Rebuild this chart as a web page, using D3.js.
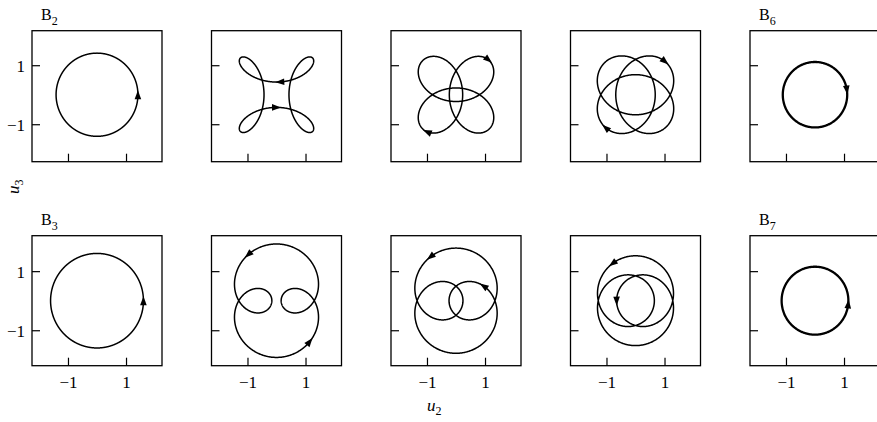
<!DOCTYPE html>
<html>
<head>
<meta charset="utf-8">
<script src="https://cdn.jsdelivr.net/npm/d3@7"></script>
<style>
  html, body { margin: 0; padding: 0; background: #fff; }
  svg { display: block; }
</style>
</head>
<body>
<svg id="chart" width="877" height="422"></svg>
<script>
// Trajectories in the (u2, u3) plane: u2 + i·u3 = A·e^{it} − B·e^{ikt}
// Top row uses k = −3, bottom row k = +3.
const topFreq = -3;
const bottomFreq = 3;

// Amplitude of the slow (k = 1) component, per column
const topSlow    = [1.41, 1.095, 0.70, 0.42, 0.00];
const bottomSlow = [1.60, 1.04, 0.77, 0.435, 0.00];

// Amplitude of the fast (k = ±3) component, per column
const topFast    = [0.00, 0.665, 0.93, 1.10, 1.11];
const bottomFast = [0.00, 0.88, 1.01, 1.085, 1.15];

// Where the direction arrows sit on each trajectory (u2, u3)
const topArrows = [
  [[1.41, 0.0]],
  [[0.11, 0.44], [0.0, -0.42]],
  [[1.13, 1.20], [-0.98, -1.22]],
  [[0.94, 1.03], [-0.95, -1.03]],
  [[1.11, 0.16]]
];
const bottomArrows = [
  [[1.60, 0.0]],
  [[-0.93, 1.49], [1.16, -1.40]],
  [[-0.89, 1.50], [0.93, 0.47]],
  [[-0.75, 1.21], [-0.625, -0.02]],
  [[1.15, -0.10]]
];

// Panel labels (letter, subscript); null = unlabeled
const topTitles    = [["B", "2"], null, null, null, ["B", "6"]];
const bottomTitles = [["B", "3"], null, null, null, ["B", "7"]];

const tickValues = [-1, 1];
const xLabel = ["u", "2"];
const yLabel = ["u", "3"];

// ---------------------------------------------------------------
const svg = d3.select("#chart");
const serif = "'Liberation Serif', 'Times New Roman', Times, serif";

const colCenters = d3.range(5).map(i => 97 + 179.5 * i);
const halfW = 65;
const rows = [
  { top: 30.7, h: 131, yDom: [-2.27, 2.17], freq: topFreq, slow: topSlow, fast: topFast, arrows: topArrows, titles: topTitles },
  { top: 235.7, h: 130, yDom: [-2.2, 2.2], freq: bottomFreq, slow: bottomSlow, fast: bottomFast, arrows: bottomArrows, titles: bottomTitles }
];

const fmt = d => (d < 0 ? "\u2212" : "") + Math.abs(d);
const N = 1200;

rows.forEach((row, r) => {
  colCenters.forEach((cx, c) => {
    const x = d3.scaleLinear().domain([-2.24, 2.24]).range([cx - halfW, cx + halfW]);
    const y = d3.scaleLinear().domain(row.yDom).range([row.top + row.h, row.top]);
    const g = svg.append("g");

    // frame
    g.append("rect")
      .attr("x", cx - halfW).attr("y", row.top)
      .attr("width", 2 * halfW).attr("height", row.h)
      .attr("fill", "none").attr("stroke", "#000").attr("stroke-width", 1.3);

    // left axis (ticks point inward)
    const ya = g.append("g")
      .attr("transform", `translate(${cx - halfW},0)`)
      .call(d3.axisLeft(y).tickValues(tickValues).tickSize(-8).tickPadding(7)
        .tickFormat(c === 0 ? fmt : () => ""));
    ya.select(".domain").remove();

    // bottom axis (ticks point inward)
    const xa = g.append("g")
      .attr("transform", `translate(0,${row.top + row.h})`)
      .call(d3.axisBottom(x).tickValues(tickValues).tickSize(-8).tickPadding(10.5)
        .tickFormat(r === 1 ? fmt : () => ""));
    xa.select(".domain").remove();

    [ya, xa].forEach(a => {
      a.attr("font-family", serif).attr("font-size", 17);
      a.selectAll("line").attr("stroke", "#000").attr("stroke-width", 1.2);
      a.selectAll("text").attr("fill", "#000");
    });
    ya.selectAll("text").attr("dy", "0.38em");

    // trajectory
    const A = row.slow[c], B = row.fast[c], k = row.freq;
    const pts = d3.range(N + 1).map(i => {
      const t = 2 * Math.PI * i / N;
      return [A * Math.cos(t) - B * Math.cos(k * t), A * Math.sin(t) - B * Math.sin(k * t)];
    });
    const multiple = A === 0; // circle retraced several times
    g.append("path")
      .attr("d", d3.line().x(d => x(d[0])).y(d => y(d[1]))(pts))
      .attr("fill", "none").attr("stroke", "#000")
      .attr("stroke-width", multiple ? 2.3 : 1.5)
      .attr("stroke-linejoin", "round");

    // arrowheads along the direction of motion
    const px = pts.map(p => [x(p[0]), y(p[1])]);
    row.arrows[c].forEach(a => {
      const ax = x(a[0]), ay = y(a[1]);
      let best = 0, bd = Infinity;
      for (let i = 0; i < N; i++) {
        const d = (px[i][0] - ax) ** 2 + (px[i][1] - ay) ** 2;
        if (d < bd) { bd = d; best = i; }
      }
      const p0 = px[(best - 3 + N) % N], p1 = px[(best + 3) % N];
      let ux = p1[0] - p0[0], uy = p1[1] - p0[1];
      const len = Math.hypot(ux, uy); ux /= len; uy /= len;
      const L = 9, w = 3.3, m = px[best];
      const tip = [m[0] + ux * L / 2, m[1] + uy * L / 2];
      const b1 = [m[0] - ux * L / 2 - uy * w, m[1] - uy * L / 2 + ux * w];
      const b2 = [m[0] - ux * L / 2 + uy * w, m[1] - uy * L / 2 - ux * w];
      g.append("path")
        .attr("d", `M${tip}L${b1}L${b2}Z`)
        .attr("fill", "#000");
    });

    // panel label
    const ttl = row.titles[c];
    if (ttl) {
      const t = g.append("text")
        .attr("x", cx - halfW + 9).attr("y", row.top - 10.5)
        .attr("font-family", serif).attr("font-size", 16).attr("fill", "#000");
      t.append("tspan").text(ttl[0]);
      t.append("tspan").attr("font-size", 12).attr("dy", 4.3).text(ttl[1]);
    }
  });
});

// axis titles
const xt = svg.append("text")
  .attr("x", colCenters[2] - 29).attr("y", 411)
  .attr("font-family", serif).attr("font-size", 17).attr("fill", "#000");
xt.append("tspan").attr("font-style", "italic").text(xLabel[0]);
xt.append("tspan").attr("font-size", 12).attr("dy", 4).text(xLabel[1]);

const yt = svg.append("text")
  .attr("transform", "translate(19,194) rotate(-90)")
  .attr("font-family", serif).attr("font-size", 17).attr("fill", "#000");
yt.append("tspan").attr("font-style", "italic").text(yLabel[0]);
yt.append("tspan").attr("font-size", 12).attr("dy", 4).text(yLabel[1]);
</script>
</body>
</html>
